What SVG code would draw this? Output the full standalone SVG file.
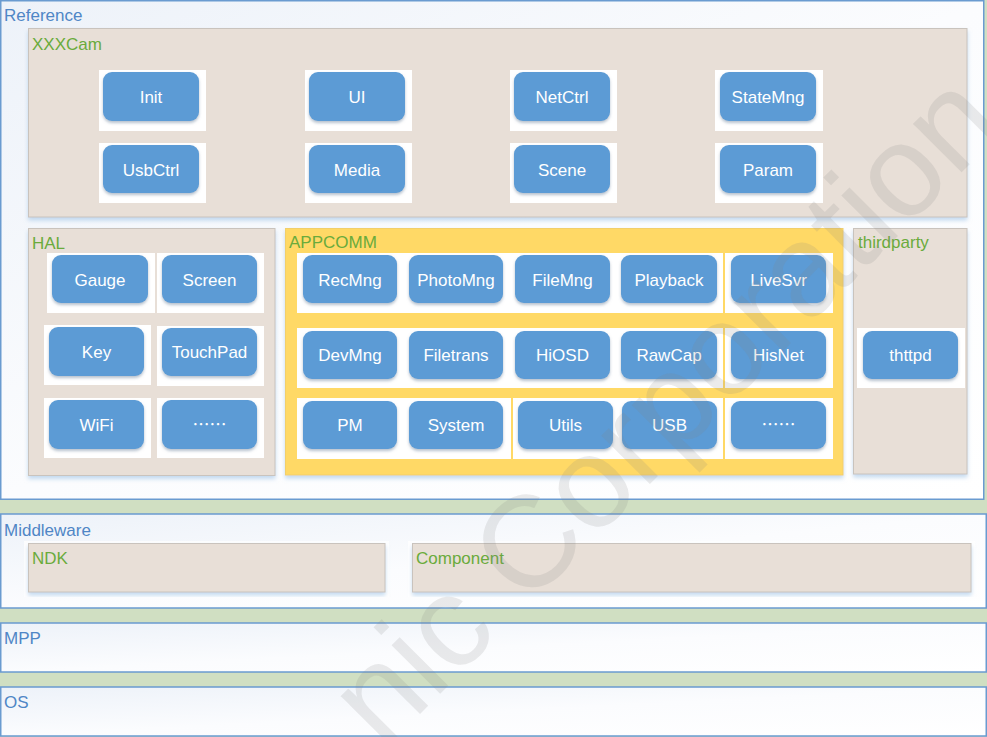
<svg xmlns="http://www.w3.org/2000/svg" width="987" height="737" viewBox="0 0 987 737">
<defs>
<linearGradient id="layerGrad" x1="0" y1="0" x2="1" y2="1">
<stop offset="0" stop-color="#edf2f9"/>
<stop offset="0.5" stop-color="#fbfcfe"/>
<stop offset="1" stop-color="#ffffff"/>
</linearGradient>
<filter id="nodeShadow" x="-10%" y="-10%" width="120%" height="140%">
<feDropShadow dx="0" dy="2" stdDeviation="1.5" flood-color="#7a8ea6" flood-opacity="0.55"/>
</filter>
<filter id="contShadow" x="-5%" y="-5%" width="110%" height="115%">
<feDropShadow dx="0" dy="3" stdDeviation="2" flood-color="#9dc3e6" flood-opacity="0.6"/>
</filter>
</defs>
<style>
.layer{fill:url(#layerGrad);stroke:#6a9bd0;stroke-width:1.5}
.lbl{font-family:"Liberation Sans",Arial,sans-serif;font-size:17px;fill:#4f86c6}
.glbl{font-family:"Liberation Sans",Arial,sans-serif;font-size:17px;fill:#6aab3c}
.cont{fill:#e8dfd7;stroke:#c9c3bd;stroke-width:1;filter:url(#contShadow)}
.app{fill:#ffd966;stroke:#f2cf6a;stroke-width:1;filter:url(#contShadow)}
.bk{fill:#ffffff}
.box{fill:#5b9bd5;filter:url(#nodeShadow)}
.node text{font-family:"Liberation Sans",Arial,sans-serif;font-size:17px;fill:#ffffff;text-anchor:middle}
.node text.dots{font-family:"Noto Sans CJK SC",sans-serif;font-size:17px}
.div{stroke:#ffd966;stroke-width:2}
.wm{font-family:"Liberation Sans",Arial,sans-serif;font-size:130px;fill:#808080;fill-opacity:0.16}
</style>

<rect x="0" y="0" width="987" height="737" fill="#d0dfc2"/>

<g id="layer-reference">
<rect class="layer" x="0.75" y="0.75" width="983" height="498.5"/>
<text class="lbl" x="4" y="21">Reference</text>
</g>

<g id="xxxcam">
<rect class="cont" x="28.5" y="28.5" width="938.5" height="188.5"/>
<text class="glbl" x="32" y="50">XXXCam</text>
</g>

<g id="hal">
<rect class="cont" x="28.5" y="228.5" width="246.5" height="247"/>
<text class="glbl" x="32" y="249">HAL</text>
</g>

<g id="appcomm">
<rect class="app" x="285.5" y="228.5" width="557.5" height="246.5"/>
<text class="glbl" x="289" y="248">APPCOMM</text>
<rect class="bk" x="297" y="253" width="536" height="60"/>
<rect class="bk" x="297" y="328" width="536" height="60"/>
<rect class="bk" x="297" y="398" width="536" height="61"/>
<line class="div" x1="724" y1="253" x2="724" y2="313"/>
<line class="div" x1="724" y1="328" x2="724" y2="388"/>
<line class="div" x1="724" y1="398" x2="724" y2="459"/>
<line class="div" x1="512" y1="398" x2="512" y2="459"/>
</g>

<g id="thirdparty">
<rect class="cont" x="853.5" y="228.5" width="113.5" height="245.5"/>
<text class="glbl" x="858" y="248">thirdparty</text>
</g>

<g id="layer-middleware">
<rect class="layer" x="0.75" y="514" width="985.5" height="94"/>
<text class="lbl" x="4" y="536">Middleware</text>
</g>
<g id="ndk">
<rect class="bk" x="24" y="541" width="365" height="56" fill-opacity="0.8"/>
<rect class="cont" x="28.5" y="543.5" width="356.5" height="48.5"/>
<text class="glbl" x="32" y="564">NDK</text>
</g>
<g id="component">
<rect class="bk" x="408" y="541" width="567" height="56" fill-opacity="0.8"/>
<rect class="cont" x="412.5" y="543.5" width="558.5" height="48.5"/>
<text class="glbl" x="416" y="564">Component</text>
</g>

<g id="layer-mpp">
<rect class="layer" x="0.75" y="623" width="985.5" height="49"/>
<text class="lbl" x="4" y="644">MPP</text>
</g>

<g id="layer-os">
<rect class="layer" x="0.75" y="687" width="985.5" height="49"/>
<text class="lbl" x="4" y="708">OS</text>
</g>

<!-- XXXCam nodes -->
<g id="n-init" class="node"><rect class="bk" x="99" y="70" width="107" height="61"/><rect class="box" x="103" y="72" width="96" height="49" rx="9"/><text x="151" y="103">Init</text></g>
<g id="n-ui" class="node"><rect class="bk" x="305" y="70" width="107" height="61"/><rect class="box" x="309" y="72" width="96" height="49" rx="9"/><text x="357" y="103">UI</text></g>
<g id="n-netctrl" class="node"><rect class="bk" x="510" y="70" width="107" height="61"/><rect class="box" x="514" y="72" width="96" height="49" rx="9"/><text x="562" y="103">NetCtrl</text></g>
<g id="n-statemng" class="node"><rect class="bk" x="715" y="70" width="108" height="61"/><rect class="box" x="720" y="72" width="96" height="49" rx="9"/><text x="768" y="103">StateMng</text></g>
<g id="n-usbctrl" class="node"><rect class="bk" x="99" y="143" width="107" height="60"/><rect class="box" x="103" y="145" width="96" height="48" rx="9"/><text x="151" y="176">UsbCtrl</text></g>
<g id="n-media" class="node"><rect class="bk" x="305" y="143" width="107" height="60"/><rect class="box" x="309" y="145" width="96" height="48" rx="9"/><text x="357" y="176">Media</text></g>
<g id="n-scene" class="node"><rect class="bk" x="510" y="143" width="107" height="60"/><rect class="box" x="514" y="145" width="96" height="48" rx="9"/><text x="562" y="176">Scene</text></g>
<g id="n-param" class="node"><rect class="bk" x="715" y="143" width="108" height="60"/><rect class="box" x="720" y="145" width="96" height="48" rx="9"/><text x="768" y="176">Param</text></g>

<!-- HAL nodes -->
<g id="n-gauge" class="node"><rect class="bk" x="47" y="253" width="108" height="60"/><rect class="box" x="52" y="255" width="96" height="48" rx="9"/><text x="100" y="286">Gauge</text></g>
<g id="n-screen" class="node"><rect class="bk" x="157" y="253" width="107" height="60"/><rect class="box" x="162" y="255" width="95" height="48" rx="9"/><text x="209.5" y="286">Screen</text></g>
<g id="n-key" class="node"><rect class="bk" x="44" y="325" width="107" height="60"/><rect class="box" x="49" y="327" width="95" height="49" rx="9"/><text x="96.5" y="358">Key</text></g>
<g id="n-touchpad" class="node"><rect class="bk" x="157" y="326" width="107" height="60"/><rect class="box" x="162" y="328" width="95" height="48" rx="9"/><text x="209.5" y="358">TouchPad</text></g>
<g id="n-wifi" class="node"><rect class="bk" x="44" y="398" width="107" height="60"/><rect class="box" x="49" y="400" width="95" height="49" rx="9"/><text x="96.5" y="431">WiFi</text></g>
<g id="n-hal-more" class="node"><rect class="bk" x="157" y="398" width="107" height="60"/><rect class="box" x="162" y="400" width="95" height="49" rx="9"/><text class="dots" x="209.5" y="431">……</text></g>

<!-- APPCOMM nodes -->
<g id="n-recmng" class="node"><rect class="box" x="303" y="255" width="94" height="48" rx="9"/><text x="350" y="286">RecMng</text></g>
<g id="n-photomng" class="node"><rect class="box" x="409" y="255" width="94" height="48" rx="9"/><text x="456" y="286">PhotoMng</text></g>
<g id="n-filemng" class="node"><rect class="box" x="515" y="255" width="95" height="48" rx="9"/><text x="562.5" y="286">FileMng</text></g>
<g id="n-playback" class="node"><rect class="box" x="621" y="255" width="96" height="48" rx="9"/><text x="669" y="286">Playback</text></g>
<g id="n-livesvr" class="node"><rect class="box" x="731" y="255" width="95" height="48" rx="9"/><text x="778.5" y="286">LiveSvr</text></g>
<g id="n-devmng" class="node"><rect class="box" x="303" y="331" width="94" height="48" rx="9"/><text x="350" y="361">DevMng</text></g>
<g id="n-filetrans" class="node"><rect class="box" x="409" y="331" width="94" height="48" rx="9"/><text x="456" y="361">Filetrans</text></g>
<g id="n-hiosd" class="node"><rect class="box" x="515" y="331" width="95" height="48" rx="9"/><text x="562.5" y="361">HiOSD</text></g>
<g id="n-rawcap" class="node"><rect class="box" x="621" y="331" width="96" height="48" rx="9"/><text x="669" y="361">RawCap</text></g>
<g id="n-hisnet" class="node"><rect class="box" x="731" y="331" width="95" height="48" rx="9"/><text x="778.5" y="361">HisNet</text></g>
<g id="n-pm" class="node"><rect class="box" x="303" y="401" width="94" height="48" rx="9"/><text x="350" y="431">PM</text></g>
<g id="n-system" class="node"><rect class="box" x="409" y="401" width="94" height="48" rx="9"/><text x="456" y="431">System</text></g>
<g id="n-utils" class="node"><rect class="box" x="518" y="401" width="95" height="48" rx="9"/><text x="565.5" y="431">Utils</text></g>
<g id="n-usb" class="node"><rect class="box" x="622" y="401" width="95" height="48" rx="9"/><text x="669.5" y="431">USB</text></g>
<g id="n-app-more" class="node"><rect class="box" x="731" y="401" width="95" height="48" rx="9"/><text class="dots" x="778.5" y="431">……</text></g>

<!-- thirdparty node -->
<g id="n-thttpd" class="node"><rect class="bk" x="857" y="328" width="108" height="60"/><rect class="box" x="863" y="331" width="95" height="48" rx="9"/><text x="910.5" y="361">thttpd</text></g>

<g id="connectors"></g>

<text class="wm" x="383" y="751" transform="rotate(-45 383 751)">nic Corporation</text>
</svg>
